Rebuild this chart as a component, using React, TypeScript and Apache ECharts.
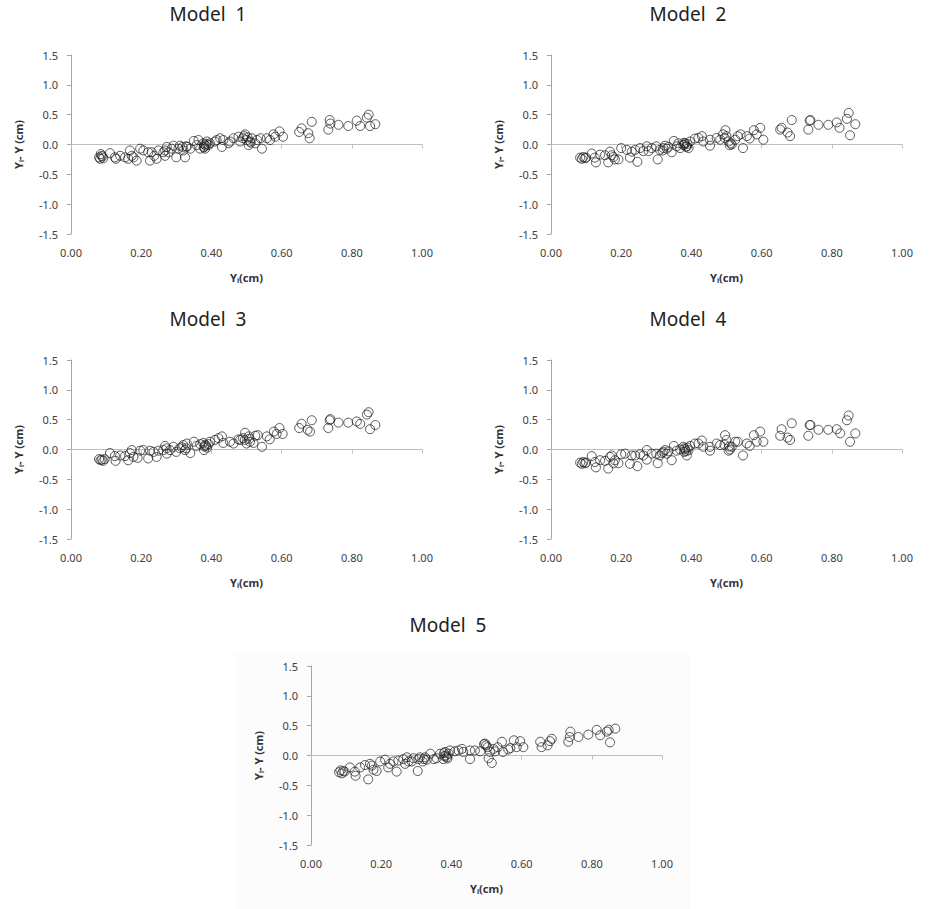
import React, { useEffect, useRef } from "react";
import * as echarts from "echarts";

const modelTitles = ["Model  1", "Model  2", "Model  3", "Model  4", "Model  5"];
const xTicks = [0, 0.2, 0.4, 0.6, 0.8, 1.0];
const yTicks = [-1.5, -1.0, -0.5, 0, 0.5, 1.0, 1.5];

const model1: number[][] = [
  [0.08, -0.215], [0.083, -0.24], [0.087, -0.19], [0.092, -0.23], [0.085, -0.16], [0.09, -0.2],
  [0.111, -0.145], [0.125, -0.215], [0.128, -0.24], [0.14, -0.19], [0.154, -0.215], [0.163, -0.24],
  [0.168, -0.1], [0.173, -0.19], [0.178, -0.215], [0.187, -0.27], [0.197, -0.07], [0.206, -0.1],
  [0.22, -0.13], [0.225, -0.27], [0.23, -0.13], [0.237, -0.19], [0.244, -0.24], [0.249, -0.1],
  [0.263, -0.13], [0.268, -0.19], [0.273, -0.04], [0.278, -0.13], [0.287, -0.07], [0.292, -0.02],
  [0.3, -0.215], [0.306, -0.07], [0.31, -0.02], [0.32, -0.1], [0.325, -0.215], [0.33, -0.04],
  [0.34, -0.07], [0.35, 0.06], [0.358, -0.01], [0.363, 0.075], [0.368, -0.07], [0.377, 0.02],
  [0.379, -0.04], [0.382, -0.07], [0.387, 0.05], [0.392, -0.01], [0.396, 0.02], [0.38, 0.0],
  [0.384, -0.02], [0.378, -0.05], [0.386, 0.01], [0.318, -0.04], [0.328, -0.03], [0.268, -0.1],
  [0.41, 0.05], [0.415, 0.075], [0.425, 0.105], [0.43, -0.04], [0.434, 0.075],
  [0.449, 0.02], [0.453, 0.05], [0.463, 0.105], [0.477, 0.13], [0.482, 0.05], [0.49, 0.105],
  [0.496, 0.17], [0.5, 0.075], [0.506, -0.01], [0.51, 0.05], [0.515, 0.105], [0.525, 0.02],
  [0.493, 0.14], [0.503, 0.12], [0.512, 0.03],
  [0.53, 0.075], [0.54, 0.105], [0.544, -0.07], [0.558, 0.105], [0.567, 0.075], [0.577, 0.17],
  [0.582, 0.13], [0.594, 0.22], [0.604, 0.13], [0.65, 0.21], [0.657, 0.27], [0.676, 0.19],
  [0.68, 0.105], [0.686, 0.38], [0.733, 0.25], [0.737, 0.41], [0.739, 0.35], [0.762, 0.33],
  [0.79, 0.31], [0.814, 0.4], [0.824, 0.31], [0.843, 0.45], [0.848, 0.5], [0.852, 0.31],
  [0.867, 0.34],
];

const model2: number[][] = [
  [0.083, -0.22], [0.088, -0.24], [0.092, -0.21], [0.097, -0.23], [0.1, -0.22], [0.116, -0.15],
  [0.125, -0.22], [0.128, -0.3], [0.14, -0.17], [0.154, -0.18], [0.163, -0.3], [0.168, -0.12],
  [0.173, -0.18], [0.178, -0.21], [0.182, -0.25], [0.192, -0.25], [0.2, -0.06], [0.216, -0.09],
  [0.225, -0.22], [0.23, -0.12], [0.24, -0.09], [0.246, -0.29], [0.254, -0.06], [0.263, -0.11],
  [0.273, -0.03], [0.278, -0.11], [0.287, -0.06], [0.3, -0.03], [0.304, -0.25], [0.31, -0.09],
  [0.32, -0.06], [0.325, -0.02], [0.33, -0.07], [0.344, -0.13], [0.35, 0.06], [0.358, -0.03],
  [0.363, 0.02], [0.368, -0.06], [0.377, -0.01], [0.382, 0.02], [0.387, -0.03], [0.392, -0.06],
  [0.38, 0.0], [0.385, -0.04], [0.379, 0.03], [0.389, 0.01], [0.318, -0.1], [0.335, -0.04],
  [0.396, 0.05], [0.41, 0.1], [0.42, 0.11], [0.43, 0.14],
  [0.434, 0.05], [0.453, 0.08], [0.453, -0.02], [0.472, 0.11], [0.482, 0.08], [0.49, 0.17],
  [0.497, 0.24], [0.5, 0.14], [0.506, 0.05], [0.509, -0.01], [0.515, 0.0], [0.525, 0.08],
  [0.495, 0.11], [0.512, 0.02],
  [0.532, 0.14], [0.54, 0.17], [0.547, -0.06], [0.558, 0.14], [0.566, 0.1], [0.578, 0.24],
  [0.586, 0.17], [0.596, 0.28], [0.605, 0.08], [0.653, 0.25], [0.657, 0.28], [0.674, 0.2],
  [0.681, 0.14], [0.686, 0.41], [0.733, 0.25], [0.737, 0.4], [0.739, 0.41], [0.762, 0.33],
  [0.79, 0.33], [0.814, 0.37], [0.822, 0.28], [0.843, 0.43], [0.848, 0.53], [0.852, 0.155],
  [0.867, 0.34],
];

const model3: number[][] = [
  [0.08, -0.16], [0.084, -0.18], [0.088, -0.17], [0.092, -0.19], [0.096, -0.16], [0.111, -0.06],
  [0.125, -0.11], [0.127, -0.19], [0.14, -0.1], [0.154, -0.11], [0.163, -0.18], [0.168, -0.06],
  [0.173, -0.01], [0.178, -0.125], [0.19, -0.14], [0.197, -0.02], [0.206, -0.01], [0.22, -0.15],
  [0.225, -0.02], [0.235, -0.04], [0.244, -0.125], [0.249, -0.02], [0.263, -0.01], [0.268, 0.06],
  [0.273, -0.07], [0.282, -0.01], [0.292, 0.045], [0.3, -0.04], [0.31, 0.02], [0.32, 0.075],
  [0.325, -0.01], [0.33, 0.1], [0.34, -0.06], [0.35, 0.13], [0.358, 0.06], [0.368, 0.09],
  [0.377, 0.11], [0.379, -0.01], [0.385, 0.06], [0.392, 0.09], [0.396, 0.13], [0.382, 0.08],
  [0.388, 0.03], [0.38, 0.05], [0.315, 0.04], [0.328, 0.02], [0.272, 0.02],
  [0.41, 0.16], [0.42, 0.19], [0.43, 0.22], [0.434, 0.11], [0.453, 0.13],
  [0.463, 0.1], [0.477, 0.17], [0.482, 0.16], [0.49, 0.19], [0.496, 0.28], [0.5, 0.1],
  [0.506, 0.22], [0.51, 0.13], [0.52, 0.11], [0.525, 0.23], [0.532, 0.24], [0.544, 0.045],
  [0.495, 0.16], [0.508, 0.18],
  [0.558, 0.22], [0.566, 0.17], [0.578, 0.3], [0.586, 0.26], [0.594, 0.36], [0.603, 0.26],
  [0.65, 0.36], [0.657, 0.43], [0.674, 0.33], [0.681, 0.3], [0.686, 0.49], [0.733, 0.36],
  [0.737, 0.49], [0.739, 0.51], [0.762, 0.45], [0.79, 0.45], [0.814, 0.47], [0.824, 0.43],
  [0.843, 0.585], [0.848, 0.625], [0.852, 0.34], [0.867, 0.41],
];

const model4: number[][] = [
  [0.083, -0.22], [0.088, -0.24], [0.092, -0.21], [0.097, -0.23], [0.1, -0.22], [0.116, -0.11],
  [0.125, -0.21], [0.128, -0.3], [0.14, -0.18], [0.154, -0.19], [0.163, -0.32], [0.168, -0.125],
  [0.173, -0.1], [0.178, -0.23], [0.182, -0.18], [0.192, -0.23], [0.2, -0.08], [0.211, -0.07],
  [0.225, -0.24], [0.23, -0.1], [0.24, -0.1], [0.246, -0.28], [0.254, -0.08], [0.263, -0.1],
  [0.273, -0.01], [0.273, -0.17], [0.287, -0.07], [0.3, -0.07], [0.304, -0.23], [0.31, -0.1],
  [0.32, -0.04], [0.325, -0.01], [0.33, -0.07], [0.344, -0.18], [0.35, 0.06], [0.358, -0.02],
  [0.368, 0.0], [0.377, 0.045], [0.379, -0.04], [0.387, -0.1], [0.392, -0.01], [0.396, 0.06],
  [0.382, 0.0], [0.385, -0.03], [0.38, 0.02], [0.389, 0.03], [0.316, -0.06], [0.335, -0.03],
  [0.41, 0.1], [0.42, 0.1], [0.43, 0.15], [0.434, 0.045],
  [0.453, -0.02], [0.453, 0.045], [0.472, 0.1], [0.482, 0.075], [0.496, 0.24], [0.5, 0.16],
  [0.506, -0.02], [0.51, 0.0], [0.515, 0.045], [0.525, 0.13], [0.532, 0.13], [0.547, -0.1],
  [0.494, 0.08], [0.508, 0.05],
  [0.558, 0.1], [0.566, 0.06], [0.578, 0.24], [0.586, 0.13], [0.596, 0.3], [0.605, 0.13],
  [0.653, 0.23], [0.657, 0.34], [0.674, 0.2], [0.681, 0.16], [0.686, 0.44], [0.733, 0.23],
  [0.737, 0.41], [0.739, 0.41], [0.762, 0.33], [0.79, 0.33], [0.814, 0.34], [0.824, 0.27],
  [0.843, 0.49], [0.848, 0.57], [0.852, 0.13], [0.867, 0.27],
];

const model5: number[][] = [
  [0.08, -0.28], [0.084, -0.25], [0.088, -0.3], [0.092, -0.26], [0.096, -0.27], [0.111, -0.2],
  [0.125, -0.27], [0.127, -0.34], [0.14, -0.2], [0.154, -0.16], [0.163, -0.4], [0.168, -0.14],
  [0.173, -0.17], [0.178, -0.24], [0.187, -0.26], [0.197, -0.1], [0.211, -0.07], [0.22, -0.2],
  [0.225, -0.14], [0.235, -0.1], [0.244, -0.27], [0.249, -0.085], [0.263, -0.06], [0.268, -0.14],
  [0.273, -0.03], [0.278, -0.1], [0.287, -0.1], [0.292, -0.045], [0.304, -0.26], [0.306, -0.06],
  [0.31, -0.03], [0.318, -0.1], [0.325, -0.03], [0.33, -0.07], [0.34, 0.03], [0.35, -0.06],
  [0.358, -0.045], [0.368, 0.03], [0.377, -0.06], [0.382, 0.06], [0.387, -0.03], [0.392, 0.03],
  [0.396, 0.085], [0.38, -0.01], [0.385, 0.0], [0.379, 0.04], [0.389, -0.05], [0.322, -0.06],
  [0.41, 0.07], [0.42, 0.085], [0.43, 0.11],
  [0.434, 0.06], [0.453, -0.06], [0.453, 0.085], [0.467, 0.085], [0.482, 0.07], [0.496, 0.2],
  [0.499, 0.17], [0.506, -0.045], [0.51, 0.06], [0.515, -0.125], [0.52, 0.11], [0.525, 0.07],
  [0.493, 0.19], [0.503, 0.14],
  [0.532, 0.14], [0.544, 0.23], [0.547, 0.06], [0.562, 0.1], [0.568, 0.125], [0.578, 0.255],
  [0.586, 0.14], [0.596, 0.24], [0.605, 0.14], [0.653, 0.23], [0.657, 0.14], [0.674, 0.17],
  [0.681, 0.24], [0.686, 0.28], [0.733, 0.23], [0.737, 0.31], [0.739, 0.4], [0.762, 0.31],
  [0.79, 0.35], [0.814, 0.43], [0.824, 0.34], [0.843, 0.4], [0.848, 0.43], [0.852, 0.22],
  [0.867, 0.45],
];

const allModels = [model1, model2, model3, model4, model5];

// layout of each panel (pixels)
const panels = [
  { left: 71, top: 55, titleX: 208, titleY: 14 },
  { left: 551, top: 55, titleX: 688, titleY: 14 },
  { left: 71, top: 360, titleX: 208, titleY: 319 },
  { left: 551, top: 360, titleX: 688, titleY: 319 },
  { left: 311, top: 666, titleX: 448, titleY: 625 },
];
const PW = 351;
const PH = 179;

const FONT = "'Noto Sans', 'Open Sans', sans-serif";
const LABEL_COLOR = "#404040";
const AXIS_COLOR = "#a6a6a6";

export default function App() {
  const ref = useRef<HTMLDivElement>(null);

  useEffect(() => {
    if (!ref.current) return;
    const chart = echarts.init(ref.current, undefined, { renderer: "svg" });

    const rich = {
      a: { fontFamily: FONT, fontSize: 11, fontWeight: "bold", color: "#333", lineHeight: 14 },
      s: { fontFamily: FONT, fontSize: 7, fontWeight: "bold", color: "#333", lineHeight: 8, padding: [7, 0, 0, 0] },
    };

    const grids: any[] = [];
    const xAxes: any[] = [];
    const yAxes: any[] = [];
    const series: any[] = [];
    const graphics: any[] = [
      {
        type: "rect",
        z: -10,
        silent: true,
        shape: { x: 235, y: 653, width: 455, height: 256 },
        style: { fill: "#fcfcfc" },
      },
    ];

    panels.forEach((p, i) => {
      grids.push({ left: p.left, top: p.top, width: PW, height: PH });
      xAxes.push({
        gridIndex: i,
        type: "value",
        min: xTicks[0],
        max: xTicks[xTicks.length - 1],
        interval: 0.2,
        position: "bottom",
        axisLine: { show: false, onZero: false },
        axisTick: { show: false },
        splitLine: { show: false },
        axisLabel: {
          margin: 13,
          fontFamily: FONT,
          fontSize: 11,
          color: LABEL_COLOR,
          formatter: (v: number) => v.toFixed(2),
        },
        name: "{a|Y}{s|i}{a|(cm)}",
        nameLocation: "middle",
        nameGap: 36,
        nameTextStyle: { rich },
      });
      xAxes.push({
        gridIndex: i,
        type: "value",
        min: xTicks[0],
        max: xTicks[xTicks.length - 1],
        interval: 0.2,
        position: "bottom",
        axisLine: { show: true, onZero: true, lineStyle: { color: "#bfbfbf", width: 1 } },
        axisTick: { show: true, length: 4, lineStyle: { color: "#bfbfbf" } },
        axisLabel: { show: false },
        splitLine: { show: false },
      });
      yAxes.push({
        gridIndex: i,
        type: "value",
        min: yTicks[0],
        max: yTicks[yTicks.length - 1],
        interval: 0.5,
        axisLine: { show: true, lineStyle: { color: AXIS_COLOR, width: 1 } },
        axisTick: { show: true, length: 4, lineStyle: { color: AXIS_COLOR } },
        splitLine: { show: false },
        axisLabel: {
          margin: 13,
          fontFamily: FONT,
          fontSize: 11,
          color: LABEL_COLOR,
          formatter: (v: number) => v.toFixed(1),
        },
        name: "{a|Y}{s|i}{a|- Y (cm)}",
        nameLocation: "middle",
        nameGap: 46,
        nameRotate: 90,
        nameTextStyle: { rich },
      });
      series.push({
        type: "scatter",
        xAxisIndex: i * 2,
        yAxisIndex: i,
        data: allModels[i],
        symbol: "circle",
        symbolSize: 9,
        itemStyle: { color: "rgba(0,0,0,0)", borderColor: "#1a1a1a", borderWidth: 0.9 },
        silent: true,
      });
      graphics.push({
        type: "text",
        x: p.titleX,
        y: p.titleY,
        style: {
          text: modelTitles[i],
          fontFamily: FONT,
          fontSize: 19,
          fill: "#222",
          textAlign: "center",
          textVerticalAlign: "middle",
        },
      });
    });

    chart.setOption({
      animation: false,
      backgroundColor: "#ffffff",
      grid: grids,
      xAxis: xAxes,
      yAxis: yAxes,
      series,
      graphic: graphics,
    });

    return () => chart.dispose();
  }, []);

  return (
    <div
      ref={ref}
      style={{ position: "fixed", left: 0, top: 0, width: 931, height: 909 }}
    />
  );
}
